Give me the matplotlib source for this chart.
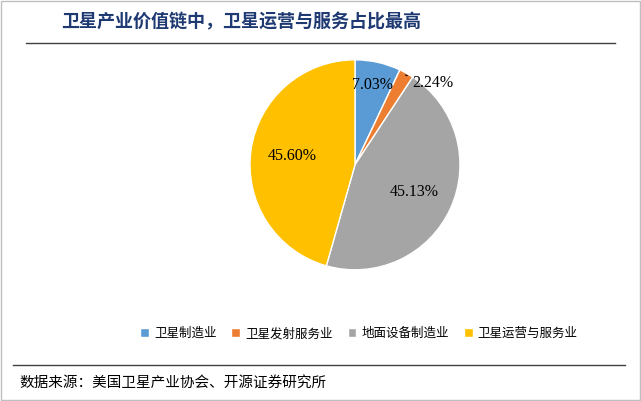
import numpy as np
import matplotlib.pyplot as plt

plt.rcParams['font.family'] = ['Noto Sans CJK SC', 'DejaVu Sans']

# ---------- Data ----------
categories = ['卫星制造业', '卫星发射服务业', '地面设备制造业', '卫星运营与服务业']
shares = [7.03, 2.24, 45.13, 45.60]
colors = ['#5B9BD5', '#ED7D31', '#A5A5A5', '#FFC000']
title = '卫星产业价值链中，卫星运营与服务占比最高'
source = '数据来源：美国卫星产业协会、开源证券研究所'

fig = plt.figure(figsize=(6.41, 4.01), dpi=100)
fig.patch.set_facecolor('white')

# border
fig.add_artist(plt.Rectangle((0.002, 0.002), 0.996, 0.996, transform=fig.transFigure,
                             fill=False, edgecolor='#BFBFBF', linewidth=1))

fig.text(0.095, 0.945, title, fontsize=13, fontweight='bold', color='#1F3A73', va='center')
fig.add_artist(plt.Line2D([0.04, 0.96], [0.893, 0.893], color='#404040', linewidth=1))
fig.add_artist(plt.Line2D([0.02, 0.975], [0.09, 0.09], color='#404040', linewidth=1))
fig.text(0.03, 0.045, source, fontsize=10.5, color='black', va='center')

# ---------- Pie ----------
ax = fig.add_axes([0.39, 0.327, 0.3276, 0.524])
wedges, _ = ax.pie(shares, colors=colors, startangle=90, counterclock=False,
                   wedgeprops=dict(edgecolor='white', linewidth=1))
ax.set_xlim(-1.0, 1.0)
ax.set_ylim(-1.0, 1.0)
ax.set_aspect('equal')

num_font = dict(family=['Liberation Serif', 'DejaVu Serif'], fontsize=11.5)
radii = [0.78, None, 0.62, 0.6]
for i, w in enumerate(wedges):
    ang = np.deg2rad((w.theta1 + w.theta2) / 2)
    txt = f'{shares[i]:.2f}%'
    if radii[i] is None:
        x0, y0 = np.cos(ang) * 0.98, np.sin(ang) * 0.98
        ax.annotate(txt, xy=(x0, y0), xytext=(0.55, 0.78), ha='left', va='center',
                    arrowprops=dict(arrowstyle='-', color='black', lw=0.8), **num_font)
    else:
        r = radii[i]
        ax.text(np.cos(ang) * r, np.sin(ang) * r, txt, ha='center', va='center', **num_font)

# ---------- Legend ----------
fig.legend(wedges, categories, loc='center', bbox_to_anchor=(0.56, 0.168), ncol=4,
           frameon=False, fontsize=9, handlelength=0.7, handleheight=0.7,
           columnspacing=1.2, handletextpad=0.4)

fig.savefig('out.png', dpi=100)
